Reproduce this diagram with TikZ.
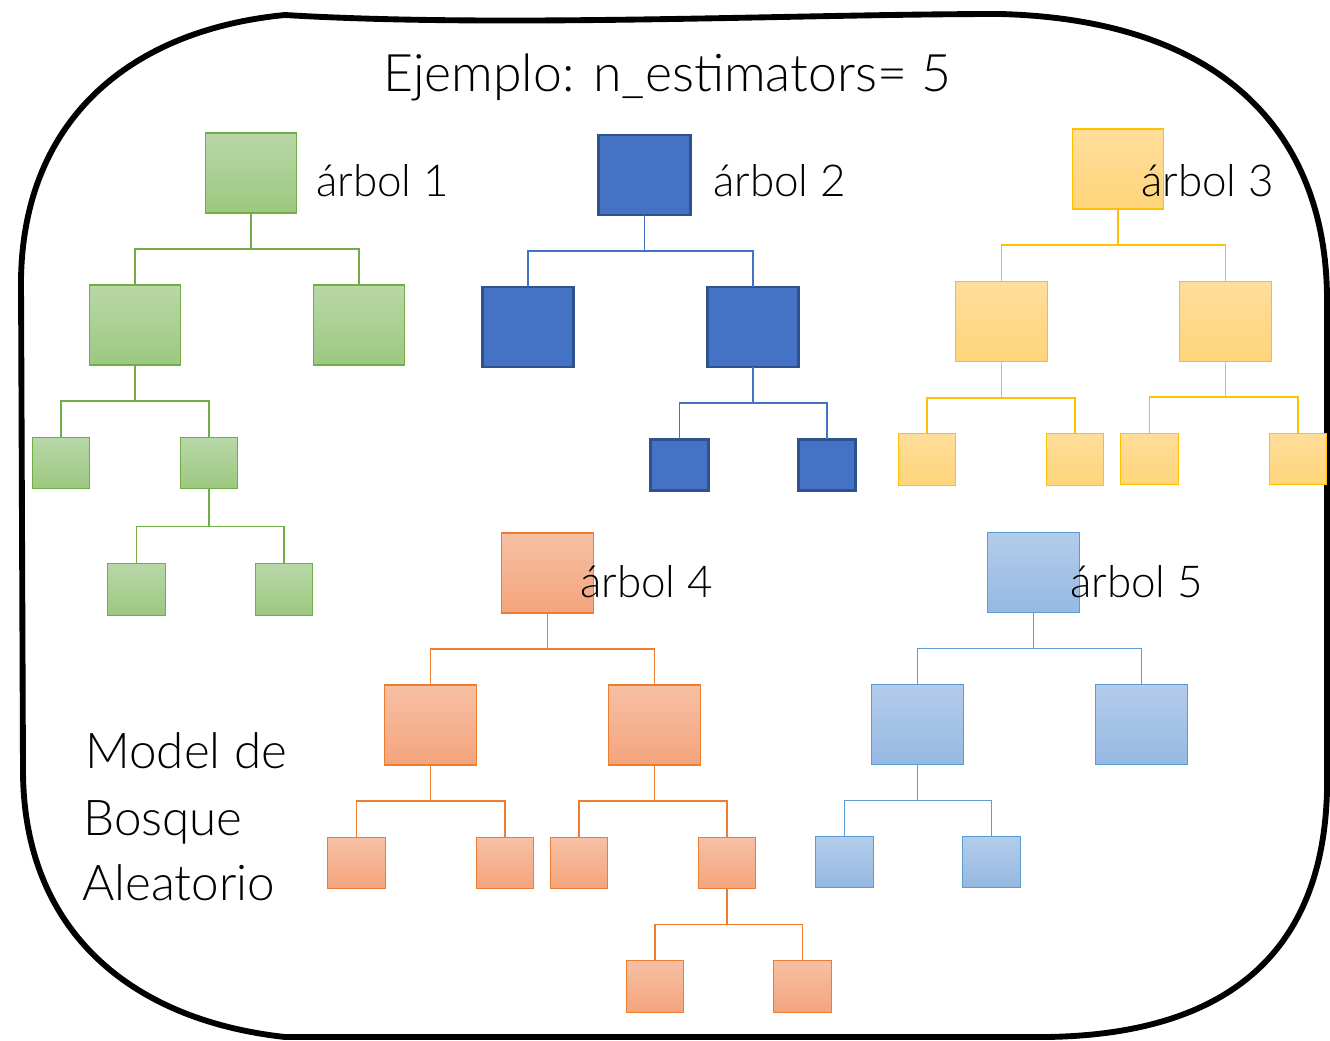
\documentclass[tikz,border=0pt]{standalone}
\usepackage{fontspec}
\setmainfont{Lato}[UprightFont={* Light}]
\usetikzlibrary{calc}

% palette
\definecolor{gTop}{RGB}{184,215,168}
\definecolor{gBot}{RGB}{157,200,128}
\definecolor{gLine}{RGB}{112,173,71}
\definecolor{yTop}{RGB}{255,221,155}
\definecolor{yBot}{RGB}{255,212,122}
\definecolor{yLine}{RGB}{255,192,0}
\definecolor{oTop}{RGB}{246,192,164}
\definecolor{oBot}{RGB}{244,164,124}
\definecolor{oLine}{RGB}{237,125,49}
\definecolor{lTop}{RGB}{180,204,234}
\definecolor{lBot}{RGB}{149,185,226}
\definecolor{lLine}{RGB}{91,155,213}
\definecolor{dFill}{RGB}{68,114,196}
\definecolor{dLine}{RGB}{47,82,143}

\tikzset{
  box/.style={rectangle, inner sep=0pt, outer sep=0pt, line width=0.9pt},
  big/.style={minimum width=68.5pt, minimum height=60pt},
  small/.style={minimum width=43pt, minimum height=38.5pt},
  gbox/.style={box, draw=gLine, top color=gTop, bottom color=gBot},
  ybox/.style={box, draw=yLine, top color=yTop, bottom color=yBot},
  obox/.style={box, draw=oLine, top color=oTop, bottom color=oBot},
  lbox/.style={box, draw=lLine, top color=lTop, bottom color=lBot},
  dbox/.style={box, draw=dLine, fill=dFill, line width=2.2pt},
  link/.style={line width=1.05pt},
  ylink/.style={line width=1.4pt, yLine},
  elbow/.style={to path={|- ($(\tikztostart)!.5!(\tikztotarget)$) -| (\tikztotarget)}},
  label/.style={anchor=base west, inner sep=0pt, font=\fontsize{33}{38}\selectfont},
  side/.style={anchor=base west, inner sep=0pt, font=\fontsize{37}{44}\selectfont},
}

\begin{document}
\begin{tikzpicture}[x=0.75pt, y=-0.75pt]
\useasboundingbox (0,0) rectangle (1330,1041);

% hand-drawn frame
\draw[line width=4.4pt, line join=round]
  (285,15) .. controls (500,28) and (800,14) .. (1000,14)
  .. controls (1230,20) and (1327,140) .. (1327,300)
  -- (1327,770)
  .. controls (1331,950) and (1230,1035) .. (1045,1037)
  -- (285,1037)
  .. controls (130,1020) and (23,930) .. (23,770)
  -- (21,280)
  .. controls (23,120) and (130,30) .. cycle;

% tree 1
\node[gbox, big]   (t1r)   at (251,173) {};
\node[gbox, big]   (t1a)   at (135,325) {};
\node[gbox, big]   (t1b)   at (359,325) {};
\node[gbox, small] (t1aa)  at (61,463) {};
\node[gbox, small] (t1ab)  at (209,463) {};
\node[gbox, small] (t1aba) at (136.5,589.5) {};
\node[gbox, small] (t1abb) at (284,589.5) {};
\draw[link, gLine] (t1r.south) to[elbow] (t1a.north);
\draw[link, gLine] (t1r.south) to[elbow] (t1b.north);
\draw[link, gLine] (t1a.south) to[elbow] (t1aa.north);
\draw[link, gLine] (t1a.south) to[elbow] (t1ab.north);
\draw[link, gLine] (t1ab.south) to[elbow] (t1aba.north);
\draw[link, gLine] (t1ab.south) to[elbow] (t1abb.north);

% tree 2
\node[dbox, big]   (t2r)  at (644.5,175) {};
\node[dbox, big]   (t2a)  at (528,327) {};
\node[dbox, big]   (t2b)  at (753,327) {};
\node[dbox, small] (t2ba) at (679.5,465) {};
\node[dbox, small] (t2bb) at (827,465) {};
\draw[link, dFill] (t2r.south) to[elbow] (t2a.north);
\draw[link, dFill] (t2r.south) to[elbow] (t2b.north);
\draw[link, dFill] (t2b.south) to[elbow] (t2ba.north);
\draw[link, dFill] (t2b.south) to[elbow] (t2bb.north);

% tree 3
\node[ybox, big]   (t3r)  at (1118,169) {};
\node[ybox, big]   (t3a)  at (1001.5,321.5) {};
\node[ybox, big]   (t3b)  at (1225.5,321.5) {};
\node[ybox, small] (t3aa) at (927,459.5) {};
\node[ybox, small] (t3ab) at (1075,459.5) {};
\node[ybox, small] (t3ba) at (1149.5,459) {};
\node[ybox, small] (t3bb) at (1298,459) {};
\draw[ylink] (t3r.south) to[elbow] (t3a.north);
\draw[ylink] (t3r.south) to[elbow] (t3b.north);
\draw[ylink] (t3a.south) to[elbow] (t3aa.north);
\draw[ylink] (t3a.south) to[elbow] (t3ab.north);
\draw[ylink] (t3b.south) to[elbow] (t3ba.north);
\draw[ylink] (t3b.south) to[elbow] (t3bb.north);

% tree 4
\node[obox, big]   (t4r)   at (547.5,573) {};
\node[obox, big]   (t4a)   at (430.5,725) {};
\node[obox, big]   (t4b)   at (654.5,725) {};
\node[obox, small] (t4aa)  at (356.5,863) {};
\node[obox, small] (t4ab)  at (505,863) {};
\node[obox, small] (t4ba)  at (579,863) {};
\node[obox, small] (t4bb)  at (727,863) {};
\node[obox, small] (t4bba) at (655,986.5) {};
\node[obox, small] (t4bbb) at (802.5,986.5) {};
\draw[link, oLine] (t4r.south) to[elbow] (t4a.north);
\draw[link, oLine] (t4r.south) to[elbow] (t4b.north);
\draw[link, oLine] (t4a.south) to[elbow] (t4aa.north);
\draw[link, oLine] (t4a.south) to[elbow] (t4ab.north);
\draw[link, oLine] (t4b.south) to[elbow] (t4ba.north);
\draw[link, oLine] (t4b.south) to[elbow] (t4bb.north);
\draw[link, oLine] (t4bb.south) to[elbow] (t4bba.north);
\draw[link, oLine] (t4bb.south) to[elbow] (t4bbb.north);

% tree 5
\node[lbox, big]   (t5r)  at (1033.5,572.5) {};
\node[lbox, big]   (t5a)  at (917.5,724.5) {};
\node[lbox, big]   (t5b)  at (1141.5,724.5) {};
\node[lbox, small] (t5aa) at (844.5,862) {};
\node[lbox, small] (t5ab) at (991.5,862) {};
\draw[link, lLine] (t5r.south) to[elbow] (t5a.north);
\draw[link, lLine] (t5r.south) to[elbow] (t5b.north);
\draw[link, lLine] (t5a.south) to[elbow] (t5aa.north);
\draw[link, lLine] (t5a.south) to[elbow] (t5ab.north);

% texts
\node[anchor=base west, inner sep=0pt, font=\fontsize{38.8}{44}\selectfont]
  (title) at (383,92) {Ejemplo: n\_estimators= 5};
\node[label] (l1) at (316,197)  {árbol 1};
\node[label] (l2) at (713,197)  {árbol 2};
\node[label] (l3) at (1141,197) {árbol 3};
\node[label] (l4) at (580,597)  {árbol 4};
\node[label] (l5) at (1070,597) {árbol 5};
\node[side] (m1) at (85,768) {Model de};
\node[side] (m2) at (83,835) {Bosque};
\node[side] (m3) at (82,900) {Aleatorio};
\end{tikzpicture}
\end{document}
